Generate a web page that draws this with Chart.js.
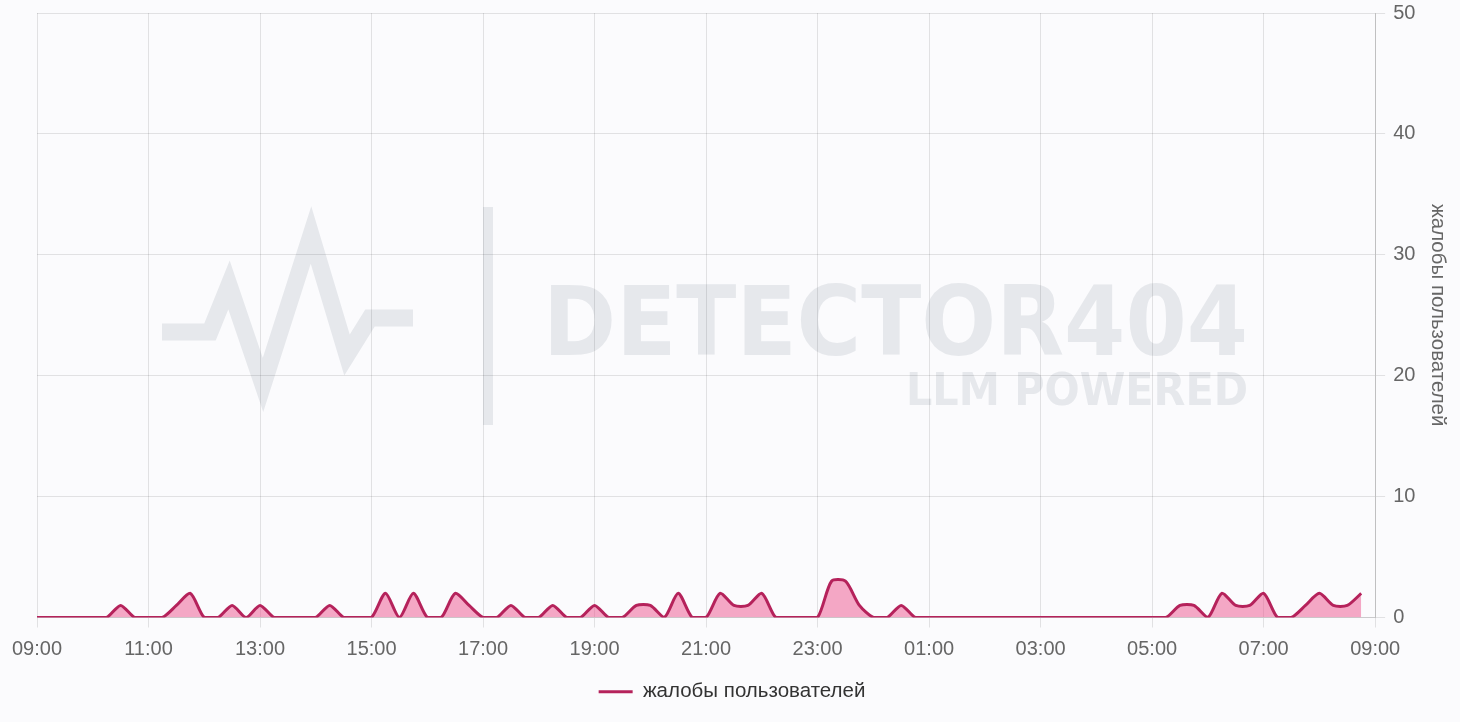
<!DOCTYPE html>
<html>
<head>
<meta charset="utf-8">
<script src="https://cdn.jsdelivr.net/npm/chart.js@4"></script>
<style>
  html, body { margin: 0; padding: 0; background: #fbfbfd; }
  #wrap { width: 1460px; height: 722px; position: relative; }
</style>
</head>
<body>
<div id="wrap"><canvas id="complaintsChart"></canvas></div>
<script>
// 15-minute buckets starting at 09:00
var stepMinutes = 15;
var complaints = [
  0, 0, 0, 0, 0, 0, 1, 0, 0, 0, 1, 2, 0, 0, 1, 0,
  1, 0, 0, 0, 0, 1, 0, 0, 0, 2, 0, 2, 0, 0, 2, 1,
  0, 0, 1, 0, 0, 1, 0, 0, 1, 0, 0, 1, 1, 0, 2, 0,
  0, 2, 1, 1, 2, 0, 0, 0, 0, 3, 3, 1, 0, 0, 1, 0,
  0, 0, 0, 0, 0, 0, 0, 0, 0, 0, 0, 0, 0, 0, 0, 0,
  0, 0, 1, 1, 0, 2, 1, 1, 2, 0, 0, 1, 2, 1, 1, 2
];
var tickLabels = ['09:00', '11:00', '13:00', '15:00', '17:00', '19:00', '21:00',
                  '23:00', '01:00', '03:00', '05:00', '07:00', '09:00'];
var seriesName = 'жалобы пользователей';

var points = complaints.map(function (v, i) {
    return { x: i * stepMinutes, y: v };
});

var fontFamily = "Arial, 'Liberation Sans', sans-serif";

// faint watermark behind the grid
var watermark = {
    id: 'watermark',
    beforeDraw: function (chart) {
        var ctx = chart.ctx;
        ctx.save();
        ctx.strokeStyle = '#e6e8ec';
        ctx.fillStyle = '#e6e8ec';
        ctx.lineWidth = 17;
        ctx.beginPath();
        ctx.moveTo(162, 332);
        ctx.lineTo(210, 332);
        ctx.lineTo(229, 285);
        ctx.lineTo(263, 385);
        ctx.lineTo(311, 235);
        ctx.lineTo(347, 355);
        ctx.lineTo(370, 318);
        ctx.lineTo(413, 318);
        ctx.stroke();
        ctx.fillRect(483, 207, 10, 218);
        ctx.textAlign = 'left';
        ctx.textBaseline = 'alphabetic';
        ctx.font = "bold 96px 'DejaVu Sans', sans-serif";
        ctx.fillText('DETECTOR404', 543, 355, 705);
        ctx.font = "bold 45px 'DejaVu Sans', sans-serif";
        ctx.fillText('LLM POWERED', 906, 405, 342);
        ctx.restore();
    }
};

var ctx = document.getElementById('complaintsChart');
var complaintsChart = new Chart(ctx, {
    type: 'line',
    data: {
        datasets: [{
            label: seriesName,
            data: points,
            borderColor: '#b5225b',
            backgroundColor: 'rgba(236, 72, 134, 0.47)',
            borderWidth: 3,
            fill: 'origin',
            tension: 0.25,
            pointRadius: 0,
            pointHoverRadius: 0,
            pointStyle: 'line'
        }]
    },
    options: {
        responsive: true,
        maintainAspectRatio: false,
        animation: false,
        layout: {
            padding: { top: 0, left: 10, right: 6, bottom: 10 }
        },
        scales: {
            x: {
                type: 'linear',
                min: 0,
                max: 24 * 60,
                afterFit: function (scale) {
                    scale.paddingLeft = 37;
                },
                grid: {
                    color: 'rgba(0,0,0,0.1)',
                    tickLength: 10
                },
                ticks: {
                    stepSize: 120,
                    maxRotation: 0,
                    autoSkip: false,
                    padding: 10,
                    color: '#666',
                    font: { family: fontFamily, size: 20 },
                    callback: function (value) {
                        return tickLabels[Math.round(value / 120)];
                    }
                }
            },
            y: {
                position: 'right',
                min: 0,
                max: 50,
                grid: {
                    color: 'rgba(0,0,0,0.1)',
                    tickLength: 10
                },
                border: { color: 'rgba(0,0,0,0.15)' },
                ticks: {
                    stepSize: 10,
                    padding: 8,
                    color: '#666',
                    font: { family: fontFamily, size: 20, lineHeight: 0.5 }
                },
                title: {
                    display: true,
                    text: seriesName,
                    color: '#666',
                    padding: { top: 4, bottom: 2 },
                    font: { family: fontFamily, size: 20.5 }
                }
            }
        },
        plugins: {
            legend: {
                position: 'bottom',
                labels: {
                    usePointStyle: true,
                    pointStyleWidth: 34,
                    color: '#333',
                    padding: 10,
                    font: { family: fontFamily, size: 20.5 }
                }
            },
            tooltip: { enabled: false }
        }
    },
    plugins: [watermark]
});
</script>
</body>
</html>
